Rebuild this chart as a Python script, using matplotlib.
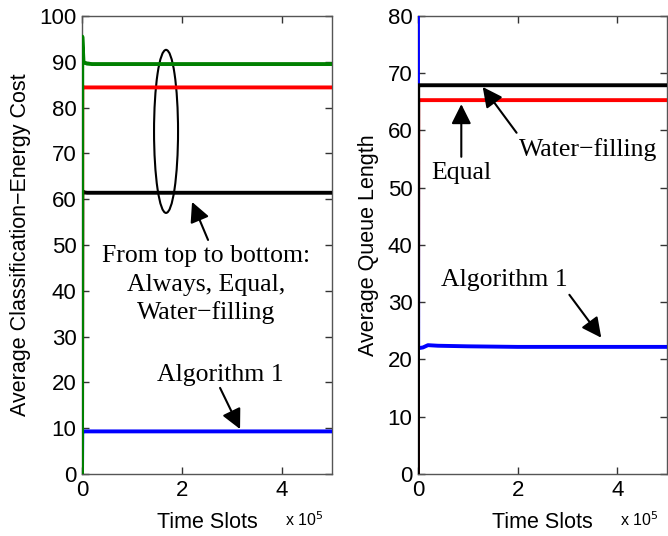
import numpy as np
import matplotlib
matplotlib.use('Agg')
import matplotlib.pyplot as plt
from matplotlib.patches import Ellipse

# time axis samples (slots)
t = [0, 500, 3000, 10000, 20000, 40000, 100000, 200000, 300000, 400000, 500000]

# left panel: average classification-energy cost
cost_always = [0, 95.5, 89.9, 89.6, 89.5, 89.5, 89.5, 89.5, 89.5, 89.5, 89.5]
cost_equal = [0, 84.6, 84.4, 84.4, 84.4, 84.4, 84.4, 84.4, 84.4, 84.4, 84.4]
cost_water = [0, 61.8, 61.5, 61.4, 61.4, 61.4, 61.4, 61.4, 61.4, 61.4, 61.4]
cost_alg1 = [0, 9.3, 9.3, 9.3, 9.3, 9.3, 9.3, 9.3, 9.3, 9.3, 9.3]

# right panel: average queue length
q_alg1 = [80, 22.0, 22.0, 22.1, 22.5, 22.4, 22.3, 22.2, 22.2, 22.2, 22.2]
q_equal = [0, 65.3, 65.3, 65.3, 65.3, 65.3, 65.3, 65.3, 65.3, 65.3, 65.3]
q_water = [0, 67.9, 67.9, 67.9, 67.9, 67.9, 67.9, 67.9, 67.9, 67.9, 67.9]

xticks = [0, 2e5, 4e5]
xticklabels = ['0', '2', '4']

sans = ['Liberation Sans', 'DejaVu Sans']
serif = ['Liberation Serif', 'DejaVu Serif']
plt.rcParams['font.family'] = sans

fig = plt.figure(figsize=(6.68, 5.36), dpi=100)
ax1 = fig.add_axes([0.1228, 0.1157, 0.3743, 0.8545])
ax2 = fig.add_axes([0.6257, 0.1157, 0.3728, 0.8545])

lw = 2.8
kw = dict(lw=lw, zorder=3)
ax1.plot(t, cost_alg1, color='#0000ff', **kw)
ax1.plot(t, cost_water, color='k', **kw)
ax1.plot(t, cost_equal, color='#ff0000', **kw)
ax1.plot(t, cost_always, color='#008000', **kw)

ax2.plot(t, q_alg1, color='#0000ff', **kw)
ax2.plot(t, q_equal, color='#ff0000', **kw)
ax2.plot(t, q_water, color='k', **kw)

for ax, ymax, yl in [(ax1, 100, 'Average Classification\u2212Energy Cost'),
                     (ax2, 80, 'Average Queue Length')]:
    ax.set_xlim(0, 5e5)
    ax.set_ylim(0, ymax)
    ax.set_xticks(xticks)
    ax.set_xticklabels(xticklabels)
    ax.set_yticks(np.arange(0, ymax + 1, 10))
    ax.tick_params(direction='in', length=5, width=1, top=True, right=True,
                   labelsize=16, color='#333333', pad=4)
    for s in ax.spines.values():
        s.set_color('#555555')
        s.set_linewidth(1)
    ax.set_xlabel('Time Slots', fontsize=15.5, labelpad=8)
    ax.set_ylabel(yl, fontsize=15.5, labelpad=6)
    ax.text(0.81, -0.1, 'x 10$^5$', transform=ax.transAxes, fontsize=11.5,
            ha='left', va='center')

ann = dict(fontsize=18.5, family=serif, ha='center', va='center')
arr = dict(arrowstyle='-|>', color='k', lw=1.5, mutation_scale=30,
           shrinkA=0, shrinkB=0)

# left annotations
ax1.add_patch(Ellipse((1.68e5, 74.8), 0.48e5, 35.6, fill=False, ec='k', lw=1.5))
ax1.annotate('', xy=(2.2e5, 59.4), xytext=(2.52e5, 51.1), arrowprops=arr)
ax1.text(2.48e5, 47.6, 'From top to bottom:', **ann)
ax1.text(2.48e5, 41.3, 'Always, Equal,', **ann)
ax1.text(2.48e5, 35.2, 'Water\u2212filling', **ann)
ax1.annotate('', xy=(3.16e5, 9.8), xytext=(2.76e5, 18.8), arrowprops=arr)
ax1.text(2.76e5, 21.6, 'Algorithm 1', **ann)

# right annotations
ax2.annotate('', xy=(0.87e5, 64.6), xytext=(0.87e5, 55.4), arrowprops=arr)
ax2.text(0.87e5, 52.6, 'Equal', **ann)
ax2.annotate('', xy=(1.3e5, 67.6), xytext=(1.98e5, 59.6), arrowprops=arr)
ax2.text(3.42e5, 56.6, 'Water\u2212filling', **ann)
ax2.annotate('', xy=(3.68e5, 23.8), xytext=(3.04e5, 31.3), arrowprops=arr)
ax2.text(1.74e5, 33.9, 'Algorithm 1', **ann)

fig.savefig('out.png', dpi=100)
